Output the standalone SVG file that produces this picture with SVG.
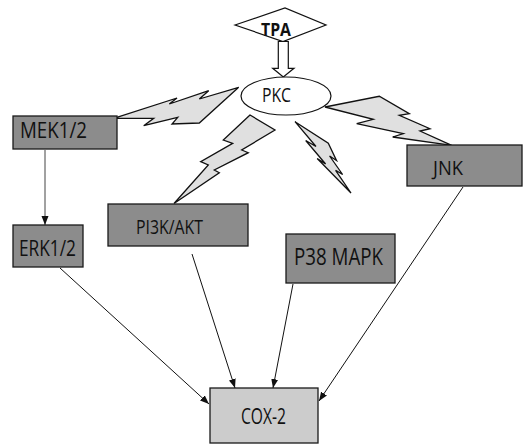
<svg xmlns="http://www.w3.org/2000/svg" width="525" height="444" viewBox="0 0 525 444">
  <style>
    .box { stroke: #1a1a1a; stroke-width: 1.3; }
    .dark { fill: #8c8c8c; }
    .light { fill: #cccccc; }
    .lbl { font-family: "Open Sans", Lato, "Liberation Sans", sans-serif; fill: #111; }
    .bolt { fill: #e0e0e0; stroke: #111; stroke-width: 1.3; stroke-linejoin: miter; }
    .link { stroke: #111; stroke-width: 1; fill: none; marker-end: url(#arr); }
  </style>
  <defs>
    <marker id="arr" markerUnits="userSpaceOnUse" markerWidth="10" markerHeight="8" refX="9" refY="4" orient="auto">
      <path d="M0,0.5 L9,4 L0,7.5 Z" fill="#111"/>
    </marker>
  </defs>
  <rect width="525" height="444" fill="#ffffff"/>

  <g id="connectors">
    <!-- lightning bolts from PKC -->
    <polygon class="bolt" points="113.7,118.3 177,98 169.3,104 208.7,90.7 199.3,99 238.7,87.3 199.3,123 172,124 177.7,117.3 143.7,125.7 153.7,118.3"/>
    <polygon class="bolt" points="250,115 223.3,140 232.7,143.3 200.7,161.7 208.3,165 174,203.5 219.3,172.7 214.3,170 248.3,152.7 241.7,150 275,130"/>
    <polygon class="bolt" points="295,121.7 328.3,143.3 336.5,160.5 329.6,156 342.6,174.5 335.6,170.3 351,193 317.2,158.5 325.6,164 305.7,140.5 316,146.5"/>
    <polygon class="bolt" points="325,107 379.3,96.3 409.3,113.7 399.3,115.3 430,128.7 420,131 451.7,145.3 392.7,137 403.3,133.7 356.7,123.7 373.3,119.3"/>
    <!-- plain arrows -->
    <line x1="45" y1="150" x2="45" y2="225" stroke="#444" stroke-width="1" marker-end="url(#arr)"/>
    <line class="link" x1="60" y1="268" x2="209" y2="404"/>
    <line class="link" x1="192" y1="254" x2="235" y2="388"/>
    <line class="link" x1="293" y1="284" x2="273" y2="388"/>
    <line class="link" x1="463" y1="187" x2="319" y2="401"/>
  </g>

  <g id="tpa">
    <polygon points="235,25 285,8 326,25 283,41.5" fill="#ffffff" stroke="#111" stroke-width="1.2"/>
    <text class="lbl" x="261" y="35.5" font-size="18" font-weight="bold" textLength="30" lengthAdjust="spacingAndGlyphs">TPA</text>
    <!-- hollow block arrow into PKC -->
    <polygon points="278.3,41.5 288.3,41.5 288.3,68.3 294,68.3 283.3,77 272.7,68.3 278.3,68.3" fill="#ffffff" stroke="#111" stroke-width="1.2"/>
  </g>

  <g id="pkc">
    <ellipse cx="286" cy="96" rx="45" ry="19" fill="#ffffff" stroke="#111" stroke-width="1.2"/>
    <text class="lbl" x="262" y="102" font-size="20" textLength="29" lengthAdjust="spacingAndGlyphs">PKC</text>
  </g>

  <g id="mek">
    <rect class="box dark" x="13" y="116" width="104" height="33"/>
    <text class="lbl" x="20" y="137.5" font-size="22" textLength="67" lengthAdjust="spacingAndGlyphs">MEK1/2</text>
  </g>

  <g id="erk">
    <rect class="box dark" x="13" y="225" width="70" height="42"/>
    <text class="lbl" x="19" y="256.3" font-size="21.5" textLength="57" lengthAdjust="spacingAndGlyphs">ERK1/2</text>
  </g>

  <g id="pi3k">
    <rect class="box dark" x="108" y="204" width="140" height="42"/>
    <text class="lbl" x="136" y="233.5" font-size="20" textLength="67" lengthAdjust="spacingAndGlyphs">PI3K/AKT</text>
  </g>

  <g id="p38">
    <rect class="box dark" x="286" y="234" width="109" height="49"/>
    <text class="lbl" x="294" y="265.3" font-size="23" textLength="89" lengthAdjust="spacingAndGlyphs">P38 MAPK</text>
  </g>

  <g id="jnk">
    <rect class="box dark" x="407" y="145" width="115" height="41"/>
    <text class="lbl" x="433" y="175.3" font-size="20" textLength="30" lengthAdjust="spacingAndGlyphs">JNK</text>
  </g>

  <g id="cox2">
    <rect class="box light" x="210" y="388" width="108" height="55"/>
    <text class="lbl" x="241" y="423.5" font-size="22.5" textLength="45" lengthAdjust="spacingAndGlyphs">COX-2</text>
  </g>
</svg>
